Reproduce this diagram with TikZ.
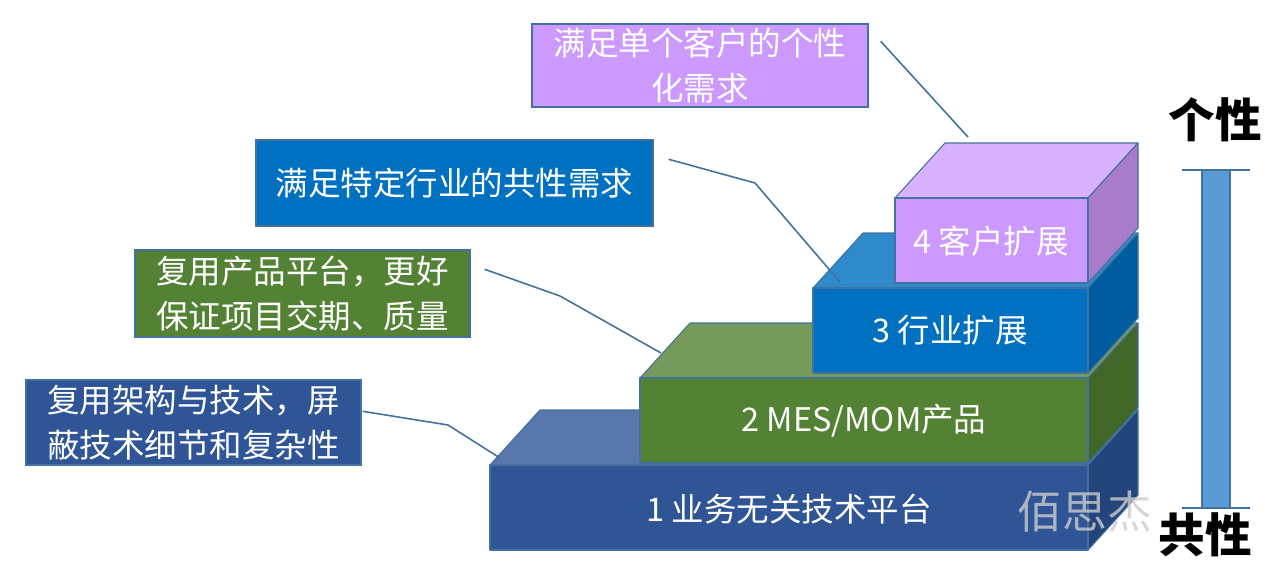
\documentclass[tikz,border=0pt]{standalone}
\usepackage{fontspec}
\setmainfont{Noto Sans CJK SC}
\usepackage{xcolor}
\usetikzlibrary{positioning}
\definecolor{platblue}{RGB}{47,85,151}
\definecolor{platbluetop}{RGB}{88,119,172}
\definecolor{platblueside}{RGB}{36,68,124}
\definecolor{prodgreen}{RGB}{84,130,53}
\definecolor{prodgreentop}{RGB}{118,153,92}
\definecolor{prodgreenside}{RGB}{64,103,40}
\definecolor{trademblue}{RGB}{0,112,192}
\definecolor{tradembluetop}{RGB}{47,138,203}
\definecolor{trademblueside}{RGB}{0,92,158}
\definecolor{clientlilac}{RGB}{204,153,255}
\definecolor{clientlilactop}{RGB}{216,178,255}
\definecolor{clientlilacside}{RGB}{168,124,203}
\definecolor{edgeblue}{RGB}{65,113,156}
\definecolor{scaleblue}{RGB}{91,155,213}
\tikzset{
  faceedge/.style={draw=edgeblue, line width=0.6pt, line join=round},
  steplabel/.style={text=white, font=\fontsize{18.5}{24}\selectfont},
  callout/.style={draw=edgeblue, line width=0.8pt, text=white, align=center,
    inner sep=0pt, font=\fontsize{18.5}{26}\selectfont},
  leader/.style={edgeblue, line width=0.9pt},
  polelabel/.style={text=black, font=\fontsize{26.5}{30}\selectfont\bfseries}
}

\begin{document}
\begin{tikzpicture}[x=0.2mm,y=-0.2mm]
  \useasboundingbox (0,0) rectangle (1280,569);
  \def\xr{1088}
  \def\dx{50}
  \def\dy{-55}
  \def\h{85}

  % marches : dessus, cote, face
  \foreach \i/\xa/\ya/\cf in {1/490/465/platblue, 2/640/378/prodgreen,
                              3/813/288/trademblue, 4/895/198/clientlilac}{
    \filldraw[fill=\cf top, faceedge] (\xa,\ya) -- (\xa+\dx,\ya+\dy) -- (\xr+\dx,\ya+\dy) -- (\xr,\ya) -- cycle;
    \filldraw[fill=\cf side, faceedge] (\xr,\ya) -- (\xr+\dx,\ya+\dy) -- (\xr+\dx,\ya+\h+\dy) -- (\xr,\ya+\h) -- cycle;
    \filldraw[fill=\cf, faceedge] (\xa,\ya) rectangle (\xr,\ya+\h);
  }

  % textes des marches
  \node[steplabel] (t1) at (789,509) {1 业务无关技术平台};
  \node[steplabel] (t2) at (864,421) {2 MES/MOM产品};
  \node[steplabel] (t3) at (950,330) {3 行业扩展};
  \node[steplabel] (t4) at (991,241) {4 客户扩展};

  % filigrane
  \node[text=gray!40, opacity=0.8, font=\fontsize{25.5}{30}\selectfont] (wm) at (1085,512) {佰思杰};

  % bulles
  \node[callout, fill=platblue, minimum width=67mm, minimum height=17mm] (c1) at (193.5,422.5) {复用架构与技术，屏\\蔽技术细节和复杂性};
  \node[callout, fill=prodgreen, minimum width=67mm, minimum height=17.4mm] (c2) at (302.5,293.5) {复用产品平台，更好\\保证项目交期、质量};
  \node[callout, fill=trademblue, minimum width=79.4mm, minimum height=17.2mm] (c3) at (454.5,183) {满足特定行业的共性需求};
  \node[callout, fill=clientlilac, minimum width=67.2mm, minimum height=16.6mm] (c4) at (700,65.5) {满足单个客户的个性\\化需求};

  % traits de rappel
  \coordinate (k1) at (448,425);
  \coordinate (e1) at (500,458);
  \coordinate (k2) at (560,296);
  \coordinate (e2) at (661,353);
  \coordinate (k3) at (755,183);
  \coordinate (e3) at (840,282);
  \coordinate (e4) at (968,137);
  \draw[leader] ([xshift=0.2mm,yshift=-6.4mm]c1.north east) -- (k1) -- (e1);
  \draw[leader] ([xshift=2.8mm,yshift=-4mm]c2.north east) -- (k2) -- (e2);
  \draw[leader] ([xshift=3mm,yshift=-4mm]c3.north east) -- (k3) -- (e3);
  \draw[leader] ([xshift=2.4mm,yshift=-3.6mm]c4.north east) -- (e4);

  % echelle individuel / commun
  \filldraw[fill=scaleblue, draw=edgeblue, line width=0.6pt] (1202,170) rectangle (1230,508);
  \draw[edgeblue, line width=0.8pt] (1182,170) -- (1250,170);
  \draw[edgeblue, line width=0.8pt] (1182,508) -- (1250,508);
  \node[polelabel] (top) at (1215,120) {个性};
  \node[polelabel] (bottom) at (1205,535) {共性};
\end{tikzpicture}
\end{document}
